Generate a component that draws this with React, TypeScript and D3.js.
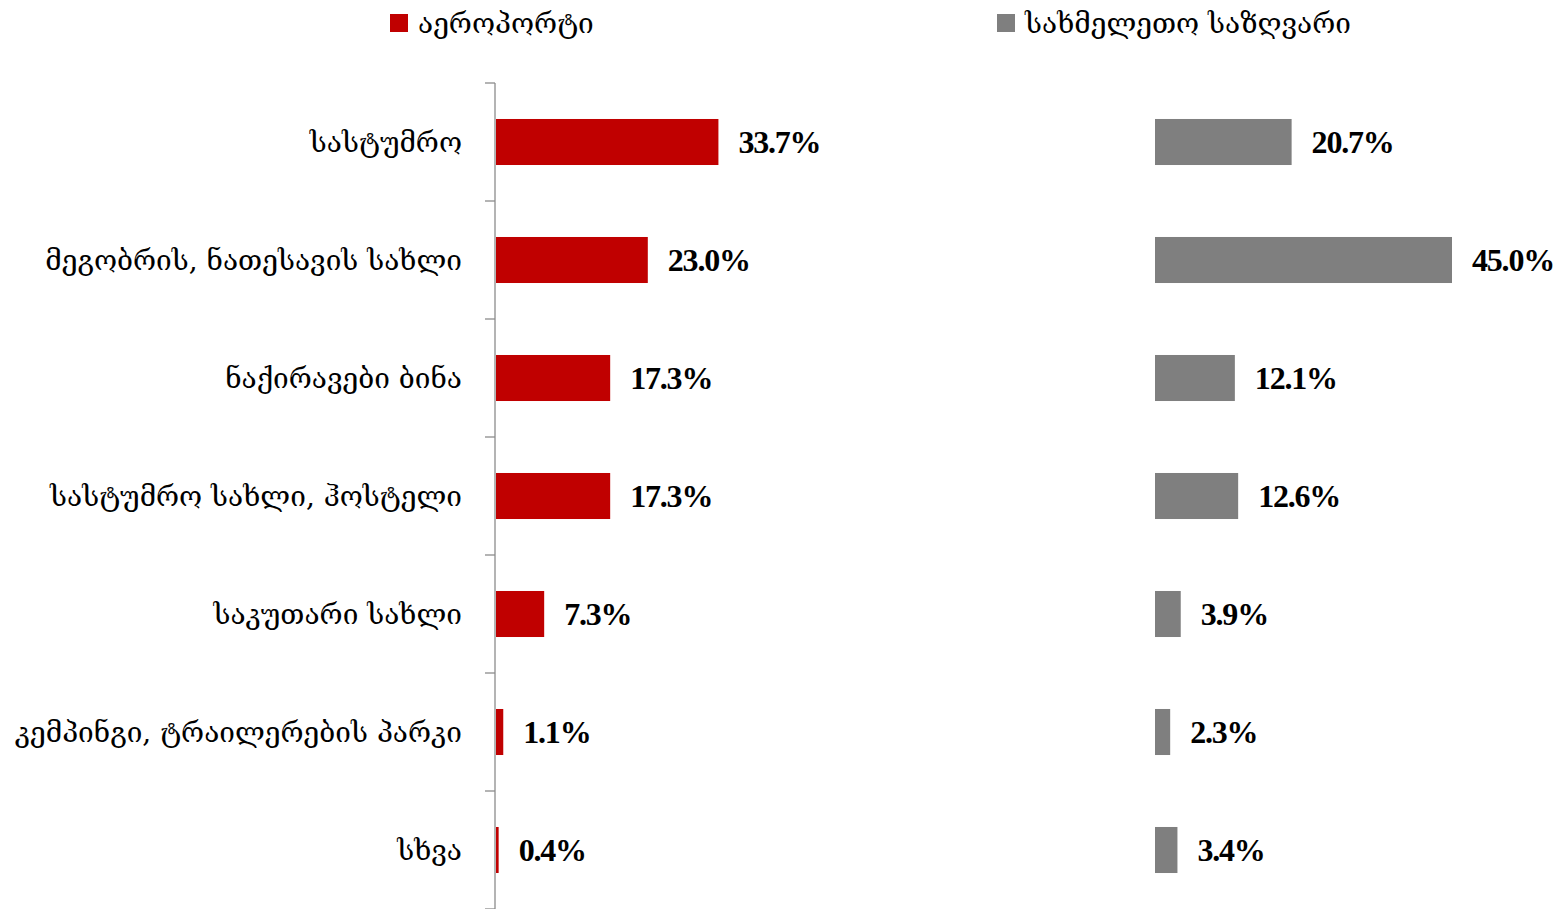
import * as React from "react";
import * as d3 from "d3";

const categories = [
  "სასტუმრო",
  "მეგობრის, ნათესავის სახლი",
  "ნაქირავები ბინა",
  "სასტუმრო სახლი, ჰოსტელი",
  "საკუთარი სახლი",
  "კემპინგი, ტრაილერების პარკი",
  "სხვა",
];
const airportValues = [33.7, 23.0, 17.3, 17.3, 7.3, 1.1, 0.4];
const landValues = [20.7, 45.0, 12.1, 12.6, 3.9, 2.3, 3.4];
const seriesNames = ["აეროპორტი", "სახმელეთო საზღვარი"];

const W = 1558;
const H = 909;
const GEO_FONT = "'DejaVu Serif', 'DejaVu Sans', serif";
const NUM_FONT = "'Liberation Serif', 'DejaVu Serif', serif";
const RED = "#C00000";
const GREY = "#7F7F7F";

export default function App() {
  const y = d3.scaleBand<string>().domain(categories).range([83, 909]).paddingInner(0.61).paddingOuter(0.305);
  // same % scale for both panels
  const xLeft = d3.scaleLinear().domain([0, 45]).range([496, 496 + 297]);
  const xRight = d3.scaleLinear().domain([0, 45]).range([1155, 1452]);
  const bounds = d3.range(categories.length + 1).map((i) => 83 + (i * (909 - 83)) / categories.length);

  const panels = [
    { values: airportValues, x: xLeft, color: RED },
    { values: landValues, x: xRight, color: GREY },
  ];

  return (
    <svg width={W} height={H} style={{ position: "absolute", left: 0, top: 0, background: "#fff" }}>
      {/* Legend */}
      <rect x={390} y={14} width={18} height={18} fill={RED} />
      <text x={418} y={23} dy="0.35em" fontFamily={GEO_FONT} fontSize={28} fill="#000">
        {seriesNames[0]}
      </text>
      <rect x={997} y={14} width={18} height={18} fill={GREY} />
      <text x={1025} y={23} dy="0.35em" fontFamily={GEO_FONT} fontSize={28} fill="#000">
        {seriesNames[1]}
      </text>

      {/* Axis */}
      <line x1={495} x2={495} y1={83} y2={909} stroke="#8C8C8C" strokeWidth={1.3} />
      {bounds.map((b) => (
        <line key={`t-${b}`} x1={485} x2={495} y1={b} y2={b} stroke="#8C8C8C" strokeWidth={1.3} />
      ))}

      {/* Category labels */}
      {categories.map((c) => (
        <text
          key={`c-${c}`}
          x={462}
          y={(y(c) ?? 0) + y.bandwidth() / 2}
          dy="0.35em"
          textAnchor="end"
          fontFamily={GEO_FONT}
          fontSize={28}
          fill="#000"
        >
          {c}
        </text>
      ))}

      {/* Bars + value labels */}
      {panels.map((p, pi) =>
        categories.map((c, i) => (
          <g key={`b-${pi}-${c}`}>
            <rect
              x={p.x(0)}
              y={y(c)}
              width={p.x(p.values[i]) - p.x(0)}
              height={y.bandwidth()}
              fill={p.color}
            />
            <text
              x={p.x(p.values[i]) + 20}
              y={(y(c) ?? 0) + y.bandwidth() / 2}
              dy="0.35em"
              fontFamily={NUM_FONT}
              fontWeight="bold"
              fontSize={32}
              letterSpacing={-1.2}
              fill="#000"
            >
              {p.values[i].toFixed(1)}%
            </text>
          </g>
        )),
      )}
    </svg>
  );
}
